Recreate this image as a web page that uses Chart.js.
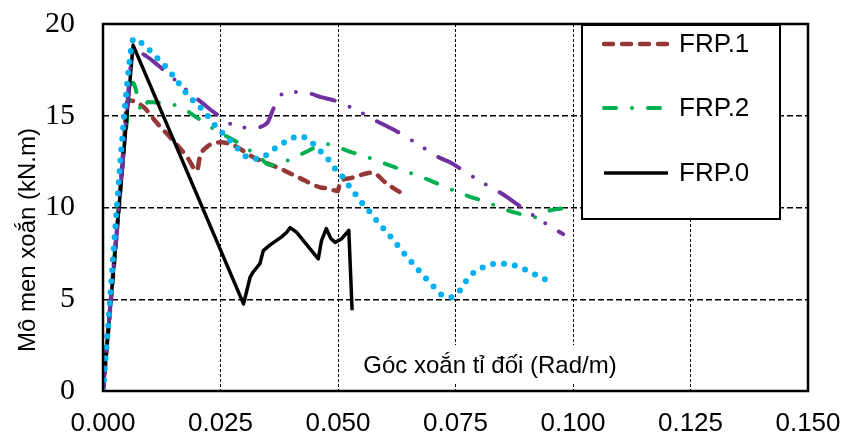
<!DOCTYPE html>
<html>
<head>
<meta charset="utf-8">
<script src="https://cdn.jsdelivr.net/npm/chart.js@4/dist/chart.umd.min.js"></script>
<style>
  body { margin: 0; background: #fff; }
</style>
</head>
<body>
<canvas id="torsionChart" width="846" height="434"></canvas>
<script>
const xTitle = "Góc xoắn tỉ đối (Rad/m)";
const yTitle = "Mô men xoắn (kN.m)";
const xTickValues = [0, 0.025, 0.05, 0.075, 0.1, 0.125, 0.15];
const xTickLabels = ["0.000", "0.025", "0.050", "0.075", "0.100", "0.125", "0.150"];
const yTickValues = [0, 5, 10, 15, 20];
const yTickLabels = ["0", "5", "10", "15", "20"];

const frp1X = [0, 0.0046, 0.0050, 0.0054, 0.0085, 0.0115, 0.0149, 0.0179, 0.0200, 0.0206, 0.0221, 0.0249, 0.0277, 0.0319, 0.0383, 0.0419, 0.0462, 0.0477, 0.0500, 0.0504, 0.0526, 0.0572, 0.0604, 0.0643];
const frp1Y = [0, 14.0, 15.5, 15.85, 15.5, 14.6, 13.65, 12.75, 12.0, 12.75, 13.3, 13.55, 13.4, 12.75, 12.05, 11.6, 11.1, 11.05, 10.9, 11.35, 11.6, 11.9, 11.3, 10.65];

const frp2X = [0, 0.0057, 0.0064, 0.0074, 0.0082, 0.0096, 0.0121, 0.0162, 0.0200, 0.0240, 0.0283, 0.0313, 0.0330, 0.0351, 0.0372, 0.0396, 0.0434, 0.0462, 0.0477, 0.0489, 0.0519, 0.0562, 0.0604, 0.0647, 0.0689, 0.0730, 0.0774, 0.0815, 0.0860, 0.0887, 0.0915, 0.0945, 0.0977, 0.0998];
const frp2Y = [0, 16.0, 16.8, 16.0, 15.2, 15.75, 15.7, 15.5, 14.9, 14.2, 13.6, 13.1, 12.85, 12.35, 12.3, 12.6, 13.05, 13.4, 13.45, 13.4, 13.1, 12.75, 12.35, 11.95, 11.55, 11.1, 10.65, 10.3, 9.85, 9.65, 9.45, 9.8, 9.95, 10.0];

const frp0X = [0, 0.0064, 0.0299, 0.0313, 0.0320, 0.0334, 0.0341, 0.0355, 0.0380, 0.0391, 0.0398, 0.0412, 0.0458, 0.0465, 0.0475, 0.0485, 0.0494, 0.0508, 0.0523, 0.0530];
const frp0Y = [0, 18.85, 4.75, 6.2, 6.5, 6.95, 7.65, 7.95, 8.4, 8.65, 8.9, 8.65, 7.2, 8.2, 8.85, 8.3, 8.1, 8.3, 8.75, 4.4];

const purpleX = [0, 0.0050, 0.0057, 0.0062, 0.0092, 0.0117, 0.0160, 0.0187, 0.0211, 0.0238, 0.0287, 0.0319, 0.0349, 0.0362, 0.0374, 0.0398, 0.0434, 0.0466, 0.0496, 0.0551, 0.0579, 0.0606, 0.0632, 0.0685, 0.0713, 0.0743, 0.0770, 0.0821, 0.0849, 0.0877, 0.0902, 0.0953, 0.0979];
const purpleY = [0, 15.0, 17.3, 18.6, 18.25, 17.75, 16.8, 16.2, 15.7, 15.15, 14.4, 14.35, 14.6, 15.35, 16.0, 16.3, 16.25, 16.0, 15.8, 15.15, 14.75, 14.4, 14.05, 13.2, 12.75, 12.4, 11.95, 11.15, 10.75, 10.25, 9.8, 8.95, 8.55];

const cyanX = [0, 0.0060, 0.0066, 0.0085, 0.0104, 0.0121, 0.0138, 0.0153, 0.0185, 0.0202, 0.0221, 0.0234, 0.0253, 0.0270, 0.0287, 0.0306, 0.0330, 0.0353, 0.0372, 0.0394, 0.0417, 0.0440, 0.0457, 0.0477, 0.0491, 0.0509, 0.0523, 0.0538, 0.0553, 0.0570, 0.0585, 0.0602, 0.0617, 0.0634, 0.0649, 0.0666, 0.0683, 0.0700, 0.0717, 0.0740, 0.0760, 0.0774, 0.0791, 0.0815, 0.0838, 0.0864, 0.0887, 0.0911, 0.0932, 0.0955];
const cyanY = [0, 18.7, 19.2, 18.9, 18.45, 18.0, 17.55, 17.05, 16.0, 15.6, 15.05, 14.6, 14.1, 13.65, 13.2, 12.75, 12.65, 12.95, 13.35, 13.65, 13.9, 13.65, 13.2, 12.7, 12.2, 11.7, 11.2, 10.7, 10.2, 9.7, 9.2, 8.7, 8.25, 7.7, 7.25, 6.75, 6.25, 5.8, 5.3, 5.1, 5.5, 6.05, 6.5, 6.8, 6.95, 6.9, 6.75, 6.45, 6.2, 5.9];

const BROWN = "#953735";
const GREEN = "#00B050";
const PURPLE = "#7030A0";
const CYAN = "#00B0F0";
const SANS = '"Liberation Sans", Arial, sans-serif';
const SERIF = '"Liberation Serif", "Times New Roman", serif';

const styles = {
    frp1: { color: BROWN, width: 4.5, dash: [9, 9], cap: "round" },
    frp2: { color: GREEN, width: 4, dash: [12, 16, 0, 16], cap: "round" },
    frp0: { color: "#000", width: 3.5, dash: [], cap: "butt" },
    purple: { color: PURPLE, width: 4, dash: [24, 16, 0, 15, 0, 16], cap: "round" },
    cyan: { color: CYAN, width: 6, dash: [0, 11], cap: "round" }
};

function toPoints(xs, ys) {
    return xs.map((x, i) => ({ x: x, y: ys[i] }));
}

function makeDataset(label, xs, ys, style, smooth) {
    return {
        label: label,
        data: toPoints(xs, ys),
        borderColor: style.color,
        borderWidth: style.width,
        borderDash: style.dash,
        borderCapStyle: style.cap,
        borderJoinStyle: "round",
        pointRadius: 0,
        fill: false,
        tension: smooth ? 0.4 : 0,
        cubicInterpolationMode: smooth ? "monotone" : "default"
    };
}

const legendItems = [
    { label: "FRP.1", style: styles.frp1, y: 44 },
    { label: "FRP.2", style: styles.frp2, y: 108 },
    { label: "FRP.0", style: styles.frp0, y: 173 }
];

const chartDecor = {
    id: "chartDecor",
    beforeDatasetsDraw(chart) {
        const ctx = chart.ctx;
        const area = chart.chartArea;
        ctx.save();
        ctx.font = "24px " + SANS;
        const w = ctx.measureText(xTitle).width;
        const cx = area.left + 387;
        ctx.fillStyle = "#fff";
        ctx.fillRect(cx - w / 2 - 8, area.bottom - 46, w + 16, 38);
        ctx.fillStyle = "#000";
        ctx.textAlign = "center";
        ctx.textBaseline = "alphabetic";
        ctx.fillText(xTitle, cx, area.bottom - 18);
        ctx.restore();
    },
    afterDraw(chart) {
        const ctx = chart.ctx;
        const area = chart.chartArea;
        ctx.save();

        // legend box
        ctx.fillStyle = "#fff";
        ctx.fillRect(582, 25, 198, 194);
        ctx.strokeStyle = "#000";
        ctx.lineWidth = 2;
        ctx.strokeRect(582, 25, 198, 194);
        legendItems.forEach(item => {
            ctx.beginPath();
            ctx.strokeStyle = item.style.color;
            ctx.lineWidth = item.style.width;
            ctx.lineCap = item.style.cap;
            ctx.setLineDash(item.style.dash);
            ctx.moveTo(604, item.y);
            ctx.lineTo(668, item.y);
            ctx.stroke();
            ctx.setLineDash([]);
            ctx.fillStyle = "#000";
            ctx.font = "26px " + SANS;
            ctx.textAlign = "left";
            ctx.textBaseline = "middle";
            ctx.fillText(item.label, 679, item.y + 1);
        });

        // plot border
        ctx.lineCap = "butt";
        ctx.strokeStyle = "#000";
        ctx.lineWidth = 2.5;
        ctx.strokeRect(area.left, area.top, area.right - area.left, area.bottom - area.top);

        // y title
        ctx.translate(28, 240);
        ctx.rotate(-Math.PI / 2);
        ctx.font = "24px " + SANS;
        ctx.fillStyle = "#000";
        ctx.textAlign = "center";
        ctx.textBaseline = "middle";
        ctx.fillText(yTitle, 0, 0);
        ctx.restore();
    }
};

const ctx = document.getElementById("torsionChart").getContext("2d");
new Chart(ctx, {
    type: "line",
    data: {
        datasets: [
            makeDataset("Series 5", cyanX, cyanY, styles.cyan, true),
            makeDataset("Series 4", purpleX, purpleY, styles.purple, true),
            makeDataset("FRP.0", frp0X, frp0Y, styles.frp0, false),
            makeDataset("FRP.2", frp2X, frp2Y, styles.frp2, true),
            makeDataset("FRP.1", frp1X, frp1Y, styles.frp1, true)
        ]
    },
    options: {
        responsive: false,
        animation: false,
        devicePixelRatio: 1,
        layout: { padding: { top: 24, right: 38, left: 0, bottom: 0 } },
        plugins: {
            legend: { display: false },
            tooltip: { enabled: false }
        },
        scales: {
            x: {
                type: "linear",
                min: 0,
                max: 0.15,
                afterBuildTicks: s => { s.ticks = xTickValues.map(v => ({ value: v })); },
                afterFit: s => { s.height = 43; s.paddingLeft = 0; s.paddingRight = 0; },
                ticks: {
                    color: "#000",
                    font: { family: SANS, size: 26 },
                    padding: 17,
                    maxRotation: 0,
                    callback: (v, i) => xTickLabels[i]
                },
                grid: {
                    drawTicks: false,
                    color: c => (c.tick && (c.tick.value === 0 || c.tick.value === 0.15)) ? "rgba(0,0,0,0)" : "#000",
                    lineWidth: 1
                },
                border: { display: false, dash: [3, 2] }
            },
            y: {
                min: 0,
                max: 20,
                afterBuildTicks: s => { s.ticks = yTickValues.map(v => ({ value: v })); },
                afterFit: s => { s.width = 103; s.paddingTop = 0; s.paddingBottom = 0; },
                ticks: {
                    color: "#000",
                    font: { family: SERIF, size: 30 },
                    padding: 28,
                    callback: (v, i) => yTickLabels[i]
                },
                grid: {
                    drawTicks: false,
                    color: c => (c.tick && (c.tick.value === 0 || c.tick.value === 20)) ? "rgba(0,0,0,0)" : "#000",
                    lineWidth: 1.5
                },
                border: { display: false, dash: [6, 3] }
            }
        }
    },
    plugins: [chartDecor]
});
</script>
</body>
</html>
